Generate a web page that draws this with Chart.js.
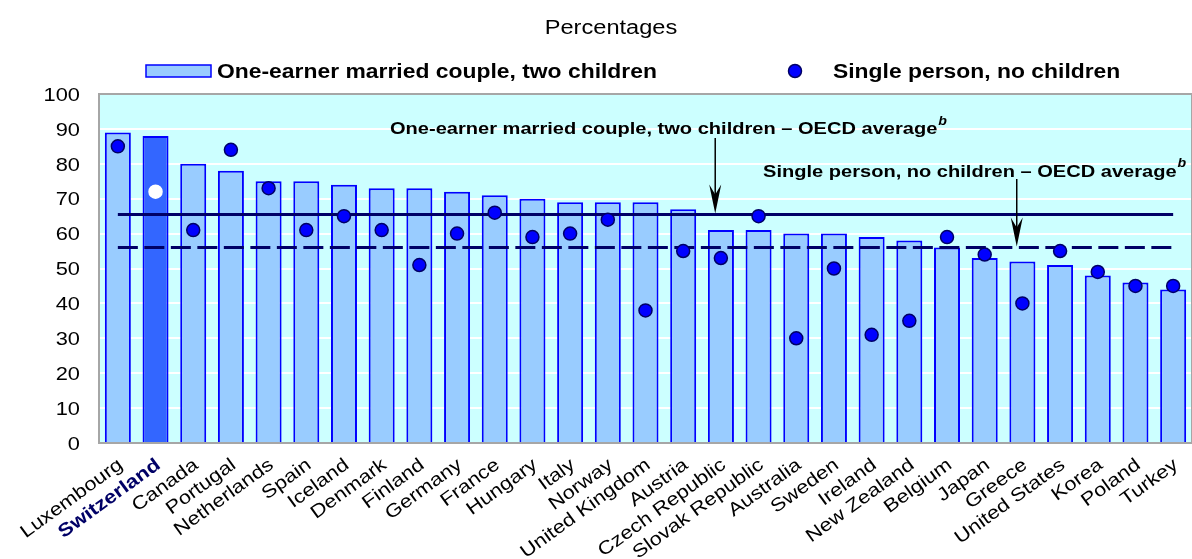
<!DOCTYPE html>
<html>
<head>
<meta charset="utf-8">
<script src="https://cdn.jsdelivr.net/npm/chart.js@4.4.1/dist/chart.umd.min.js"></script>
<style>
    html, body { margin: 0; padding: 0; background: #fff; overflow: hidden; }
    canvas { display: block; }
</style>
</head>
<body>
<canvas id="myChart" width="1200" height="559"></canvas>
<script>
// values
const countries = ['Luxembourg', 'Switzerland', 'Canada', 'Portugal', 'Netherlands', 'Spain', 'Iceland',
    'Denmark', 'Finland', 'Germany', 'France', 'Hungary', 'Italy', 'Norway', 'United Kingdom', 'Austria',
    'Czech Republic', 'Slovak Republic', 'Australia', 'Sweden', 'Ireland', 'New Zealand', 'Belgium', 'Japan',
    'Greece', 'United States', 'Korea', 'Poland', 'Turkey'];
const coupleTwoChildren = [89, 88, 80, 78, 75, 75, 74, 73, 73, 72, 71, 70, 69, 69, 69, 67, 61, 61, 60, 60, 59, 58, 56, 53, 52, 51, 48, 46, 44];
const singleNoChildren = [85, 72, 61, 84, 73, 61, 65, 61, 51, 60, 66, 59, 60, 64, 38, 55, 53, 65, 30, 50, 31, 35, 59, 54, 40, 55, 49, 45, 45];
const yTicks = [0, 10, 20, 30, 40, 50, 60, 70, 80, 90, 100];
const coupleAverage = 65.5;
const singleAverage = 56;
const highlight = 'Switzerland';

const coupleLabel = 'One-earner married couple, two children';
const singleLabel = 'Single person, no children';
const avgSuffix = ' \u2013 OECD average';

const FONT = '"Liberation Sans", Arial, sans-serif';
// the source chart uses horizontally widened text
const STRETCH = 1.18;

function drawText(ctx, text, x, y, font, color, align, angle, baseline) {
    ctx.save();
    ctx.translate(x, y);
    if (angle) ctx.rotate(angle);
    ctx.scale(STRETCH, 1);
    ctx.font = font;
    ctx.fillStyle = color;
    ctx.textAlign = align || 'left';
    ctx.textBaseline = baseline || 'alphabetic';
    ctx.fillText(text, 0, 0);
    const w = ctx.measureText(text).width * STRETCH;
    ctx.restore();
    return w;
}

function drawArrow(ctx, x, yStart, yEnd) {
    ctx.save();
    ctx.strokeStyle = '#000';
    ctx.fillStyle = '#000';
    ctx.lineWidth = 1.5;
    ctx.beginPath();
    ctx.moveTo(x, yStart);
    ctx.lineTo(x, yEnd - 12);
    ctx.stroke();
    ctx.beginPath();
    ctx.moveTo(x, yEnd);
    ctx.lineTo(x - 6, yEnd - 29);
    ctx.lineTo(x, yEnd - 19);
    ctx.lineTo(x + 6, yEnd - 29);
    ctx.closePath();
    ctx.fill();
    ctx.restore();
}

const decorations = {
    id: 'decorations',
    beforeDraw(chart) {
        const { ctx, chartArea: a } = chart;
        ctx.save();
        ctx.fillStyle = '#ccffff';
        ctx.fillRect(a.left, a.top, a.right - a.left, a.bottom - a.top);
        ctx.restore();
    },
    afterDatasetDraw(chart, args) {
        // average lines sit above the bars, below the dots
        if (args.index !== 0) return;
        const { ctx, scales: { x, y } } = chart;
        const x0 = x.getPixelForValue(0);
        const x1 = x.getPixelForValue(countries.length - 1);
        ctx.save();
        ctx.strokeStyle = '#000066';
        ctx.lineWidth = 3;
        ctx.beginPath();
        ctx.moveTo(x0, y.getPixelForValue(coupleAverage));
        ctx.lineTo(x1, y.getPixelForValue(coupleAverage));
        ctx.stroke();
        ctx.setLineDash([20, 6.5]);
        ctx.beginPath();
        ctx.moveTo(x0, y.getPixelForValue(singleAverage));
        ctx.lineTo(x1, y.getPixelForValue(singleAverage));
        ctx.stroke();
        ctx.restore();
    },
    afterDraw(chart) {
        const { ctx, chartArea: a, scales: { x, y } } = chart;

        // plot frame
        ctx.save();
        ctx.strokeStyle = '#a6a6a6';
        ctx.lineWidth = 2;
        ctx.strokeRect(a.left, a.top, a.right - a.left, a.bottom - a.top);
        ctx.restore();

        // y tick labels
        for (const v of yTicks) {
            drawText(ctx, String(v), a.left - 19, y.getPixelForValue(v) + 6.7, '18.5px ' + FONT, '#000', 'right');
        }

        // x tick labels, rotated
        const angle = -36 * Math.PI / 180;
        countries.forEach((name, i) => {
            const isHi = name === highlight;
            drawText(ctx, name, x.getPixelForTick(i) + 3, a.bottom + 20,
                (isHi ? 'bold ' : '') + '18.5px ' + FONT, isHi ? '#000066' : '#000', 'right', angle, 'middle');
        });

        // title
        drawText(ctx, 'Percentages', 611, 34, '20px ' + FONT, '#000', 'center');

        // legend
        ctx.save();
        ctx.fillStyle = '#99ccff';
        ctx.strokeStyle = '#0000ff';
        ctx.lineWidth = 1.5;
        ctx.fillRect(146, 65, 65, 12);
        ctx.strokeRect(146, 65, 65, 12);
        ctx.beginPath();
        ctx.arc(795, 71, 6.5, 0, Math.PI * 2);
        ctx.fillStyle = '#0000ff';
        ctx.fill();
        ctx.strokeStyle = '#000066';
        ctx.stroke();
        ctx.restore();
        drawText(ctx, coupleLabel, 217, 78, 'bold 19.4px ' + FONT, '#000', 'left');
        drawText(ctx, singleLabel, 833, 78, 'bold 19.4px ' + FONT, '#000', 'left');

        // average annotations
        const w1 = drawText(ctx, coupleLabel + avgSuffix, 390, 134, 'bold 17px ' + FONT, '#000', 'left');
        drawText(ctx, 'b', 390 + w1 + 1, 125, 'italic bold 12px ' + FONT, '#000', 'left');
        const w2 = drawText(ctx, singleLabel + avgSuffix, 763, 176.5, 'bold 17px ' + FONT, '#000', 'left');
        drawText(ctx, 'b', 763 + w2 + 1, 167, 'italic bold 12px ' + FONT, '#000', 'left');

        drawArrow(ctx, x.getPixelForValue(15.85), 138, y.getPixelForValue(coupleAverage) - 1);
        drawArrow(ctx, x.getPixelForValue(23.85), 179, y.getPixelForValue(singleAverage) - 1);
    }
};

const ctx = document.getElementById('myChart').getContext('2d');
// eslint-disable-next-line no-undef
new Chart(ctx, {
    type: 'bar',
    data: {
        labels: countries,
        datasets: [{
            label: coupleLabel,
            data: coupleTwoChildren,
            order: 2,
            backgroundColor: countries.map(c => c === highlight ? '#3366ff' : '#99ccff'),
            borderColor: '#0000ff',
            borderWidth: 2,
            categoryPercentage: 1,
            barPercentage: 0.69
        }, {
            type: 'line',
            label: singleLabel,
            data: singleNoChildren,
            order: 1,
            showLine: false,
            pointRadius: 6.5,
            pointBorderWidth: 1.5,
            pointBackgroundColor: countries.map(c => c === highlight ? '#ffffff' : '#0000ff'),
            pointBorderColor: countries.map(c => c === highlight ? '#ffffff' : '#000066')
        }]
    },
    options: {
        responsive: false,
        animation: false,
        events: [],
        layout: { padding: { top: 94, right: 1, left: 0, bottom: 0 } },
        plugins: {
            legend: { display: false },
            title: { display: false },
            tooltip: { enabled: false }
        },
        scales: {
            x: {
                offset: true,
                grid: { display: false },
                border: { display: false },
                ticks: { display: false },
                afterFit: (s) => { s.height = 116; }
            },
            y: {
                min: 0,
                max: 100,
                border: { display: false },
                ticks: { display: false, stepSize: 10 },
                grid: {
                    drawTicks: false,
                    lineWidth: 2,
                    color: (c) => (c.tick && (c.tick.value === 0 || c.tick.value === 100)) ? 'rgba(0,0,0,0)' : '#ffffff'
                },
                afterFit: (s) => { s.width = 99; }
            }
        }
    },
    plugins: [decorations]
});
</script>
</body>
</html>
